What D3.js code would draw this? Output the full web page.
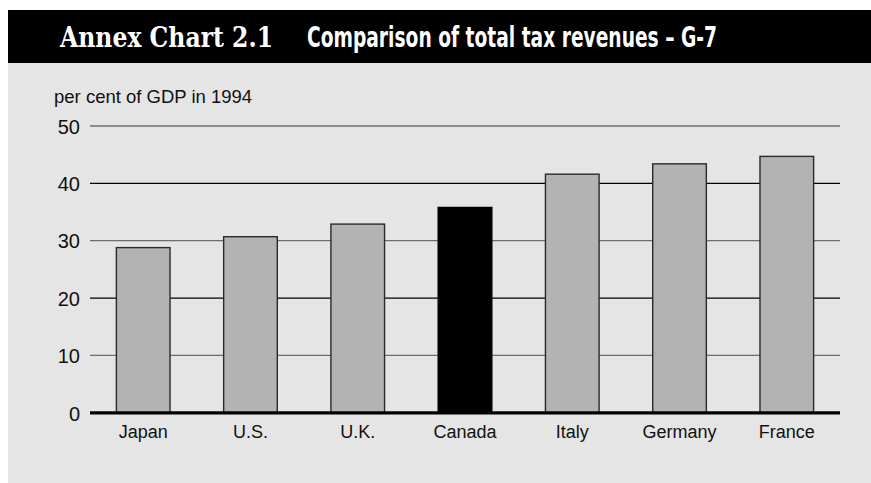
<!DOCTYPE html>
<html>
<head>
<meta charset="utf-8">
<script src="https://cdn.jsdelivr.net/npm/d3@7"></script>
<style>
  html, body { margin: 0; padding: 0; background: #ffffff; }
  svg { display: block; }
</style>
</head>
<body>
<svg id="chart" width="871" height="483"></svg>
<script>
// Total tax revenues, per cent of GDP in 1994, G-7 countries
const countries = ["Japan", "U.S.", "U.K.", "Canada", "Italy", "Germany", "France"];
const taxShare = [28.8, 30.7, 32.9, 35.8, 41.6, 43.4, 44.7];
const highlight = ["Canada"];
const yTicks = [0, 10, 20, 30, 40, 50];

const svg = d3.select("#chart");
const W = 871, H = 483;

// Panel background and title bar
svg.append("rect").attr("x", 8).attr("y", 63).attr("width", W - 8).attr("height", H - 63)
  .attr("fill", "#e5e5e5");
svg.append("rect").attr("x", 8).attr("y", 10).attr("width", W - 8).attr("height", 53)
  .attr("fill", "#000000");

const title = svg.append("text").attr("y", 47).attr("fill", "#ffffff");
title.append("tspan").attr("x", 60)
  .attr("font-family", "'DejaVu Serif', 'Liberation Serif', serif")
  .attr("font-weight", "bold").attr("font-size", 27)
  .attr("textLength", 213).attr("lengthAdjust", "spacingAndGlyphs")
  .text("Annex Chart 2.1");
title.append("tspan").attr("x", 307)
  .attr("font-family", "'Liberation Sans Narrow', 'DejaVu Sans Condensed', 'Roboto', sans-serif")
  .attr("font-weight", "bold").attr("font-size", 28)
  .attr("textLength", 410).attr("lengthAdjust", "spacingAndGlyphs")
  .text("Comparison of total tax revenues \u2013 G-7");

// Scales
const x = d3.scaleBand().domain(countries).range([90, 840])
  .paddingInner(0.5).paddingOuter(0.246);
const y = d3.scaleLinear().domain([0, 50]).range([412.8, 126]);

const font = "'Liberation Sans', Arial, Helvetica, sans-serif";

// Unit label
svg.append("text").attr("x", 54).attr("y", 103)
  .attr("font-family", font).attr("font-size", 18.5).attr("fill", "#111")
  .text("per cent of GDP in 1994");

// Horizontal grid lines (alternating tone) and tick labels
const grid = svg.append("g");
yTicks.filter(d => d > 0).forEach(d => {
  grid.append("line")
    .attr("x1", 90).attr("x2", 840)
    .attr("y1", y(d)).attr("y2", y(d))
    .attr("stroke", (d / 10) % 2 === 0 ? "#000000" : "#6e6e6e")
    .attr("stroke-width", 1.3);
});

const yAxis = d3.axisLeft(y).tickValues(yTicks).tickSize(0).tickPadding(0);
const ya = svg.append("g").attr("transform", "translate(80,0)").call(yAxis);
ya.select(".domain").remove();
ya.selectAll("text")
  .attr("font-family", font).attr("font-size", 20).attr("fill", "#111")
  .attr("dy", "0.36em");

// Bars
svg.append("g").selectAll("rect")
  .data(countries.map((c, i) => ({ c, v: taxShare[i] })))
  .join("rect")
  .attr("x", d => x(d.c))
  .attr("width", x.bandwidth())
  .attr("y", d => y(d.v))
  .attr("height", d => y(0) - y(d.v))
  .attr("fill", d => highlight.includes(d.c) ? "#000000" : "#b3b3b3")
  .attr("stroke", d => highlight.includes(d.c) ? "#000000" : "#2a2a2a")
  .attr("stroke-width", 1.4);

// Baseline
svg.append("line").attr("x1", 90).attr("x2", 840)
  .attr("y1", y(0)).attr("y2", y(0))
  .attr("stroke", "#000").attr("stroke-width", 3.2);

// Category labels
const xAxis = d3.axisBottom(x).tickSize(0).tickPadding(0);
const xa = svg.append("g").attr("transform", `translate(0,${y(0)})`).call(xAxis);
xa.select(".domain").remove();
xa.selectAll("text")
  .attr("font-family", font).attr("font-size", 18).attr("fill", "#111")
  .attr("dy", 0).attr("y", 25);
</script>
</body>
</html>
